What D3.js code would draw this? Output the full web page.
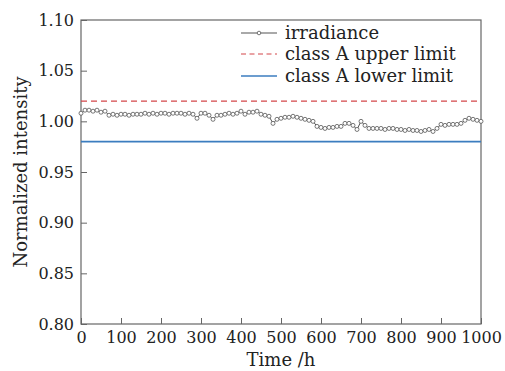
<!DOCTYPE html>
<html><head><meta charset="utf-8">
<script src="https://cdn.jsdelivr.net/npm/d3@7"></script>
<style>body{margin:0;background:#fff}svg text{font-family:"DejaVu Serif",serif;fill:#222}</style>
</head><body><svg id="c" width="505" height="371"></svg>
<script>
const hours = d3.range(0, 1001, 10);
const irradiance = [1.008,1.011,1.011,1.010,1.011,1.009,1.010,1.006,1.007,1.006,
1.007,1.007,1.006,1.007,1.007,1.007,1.008,1.007,1.008,1.007,
1.008,1.008,1.007,1.008,1.008,1.008,1.007,1.008,1.007,1.003,
1.008,1.008,1.006,1.002,1.006,1.006,1.007,1.008,1.007,1.008,
1.010,1.007,1.009,1.009,1.010,1.007,1.006,1.005,0.998,1.002,
1.003,1.004,1.004,1.005,1.004,1.003,1.002,1.001,1.000,0.995,
0.994,0.993,0.994,0.994,0.995,0.995,0.998,0.998,0.996,0.992,
1.000,0.996,0.993,0.993,0.993,0.993,0.992,0.993,0.993,0.992,
0.992,0.991,0.992,0.991,0.991,0.990,0.991,0.992,0.990,0.993,
0.997,0.996,0.997,0.997,0.997,0.998,1.001,1.003,1.002,1.001,1.000];
const upperLimit = 1.02;
const lowerLimit = 0.98;
const xTicks = [0,100,200,300,400,500,600,700,800,900,1000];
const yTicks = [0.80,0.85,0.90,0.95,1.00,1.05,1.10];
const legendLabels = ["irradiance","class A upper limit","class A lower limit"];

const svg = d3.select("#c");
const L=81,R=481,T=20,B=324;
const x = d3.scaleLinear().domain([0,1000]).range([L,R]);
const y = d3.scaleLinear().domain([0.80,1.10]).range([B,T]);
const frame="#666";

const gx = svg.append("g").attr("transform",`translate(0,${B})`)
  .call(d3.axisBottom(x).tickValues(xTicks).tickSizeInner(-6).tickSizeOuter(0).tickPadding(8).tickFormat(d3.format("d")));
const gy = svg.append("g").attr("transform",`translate(${L},0)`)
  .call(d3.axisLeft(y).tickValues(yTicks).tickSizeInner(-6).tickSizeOuter(0).tickPadding(7).tickFormat(d3.format(".2f")));
[gx,gy].forEach(g=>{
  g.select(".domain").remove();
  g.selectAll(".tick line").attr("stroke",frame);
  g.selectAll(".tick text").style("font-size","16px").attr("fill","#222");
});
gx.selectAll(".tick text").attr("dy","0.71em");
svg.append("rect").attr("x",L).attr("y",T).attr("width",R-L).attr("height",B-T)
  .attr("fill","none").attr("stroke",frame).attr("stroke-width",1.2);

svg.append("line").attr("x1",x(0)).attr("x2",x(1000)).attr("y1",y(upperLimit)).attr("y2",y(upperLimit))
  .attr("stroke","#d4474a").attr("stroke-width",1.2).attr("stroke-dasharray","6,4");
svg.append("line").attr("x1",x(0)).attr("x2",x(1000)).attr("y1",y(lowerLimit)).attr("y2",y(lowerLimit))
  .attr("stroke","#3b7dbf").attr("stroke-width",1.6);

const data = hours.map((h,i)=>({h,v:irradiance[i]}));
svg.append("path").datum(data).attr("fill","none").attr("stroke","#555").attr("stroke-width",1)
  .attr("d",d3.line().x(d=>x(d.h)).y(d=>y(d.v)));
svg.append("g").selectAll("circle").data(data).join("circle")
  .attr("cx",d=>x(d.h)).attr("cy",d=>y(d.v)).attr("r",2)
  .attr("fill","#fff").attr("stroke","#555").attr("stroke-width",0.8);

const lg = svg.append("g");
const ly = [33,54,76];
lg.append("line").attr("x1",241).attr("x2",277).attr("y1",ly[0]).attr("y2",ly[0]).attr("stroke","#555").attr("stroke-width",1.2);
lg.append("circle").attr("cx",259).attr("cy",ly[0]).attr("r",1.8).attr("fill","#fff").attr("stroke","#555").attr("stroke-width",0.8);
lg.append("line").attr("x1",241).attr("x2",277).attr("y1",ly[1]).attr("y2",ly[1]).attr("stroke","#d4474a").attr("stroke-width",1.2).attr("stroke-dasharray","5,3.5");
lg.append("line").attr("x1",241).attr("x2",277).attr("y1",ly[2]).attr("y2",ly[2]).attr("stroke","#3b7dbf").attr("stroke-width",1.6);
legendLabels.forEach((t,i)=>{
  lg.append("text").attr("x",285).attr("y",ly[i]).attr("dy","0.33em").style("font-size","18px").text(t);
});

svg.append("text").attr("x",(L+R)/2).attr("y",366).attr("text-anchor","middle").style("font-size","18px").text("Time /h");
svg.append("text").attr("transform",`translate(27,${(T+B)/2}) rotate(-90)`).attr("text-anchor","middle").style("font-size","18px").text("Normalized intensity");
</script></body></html>
